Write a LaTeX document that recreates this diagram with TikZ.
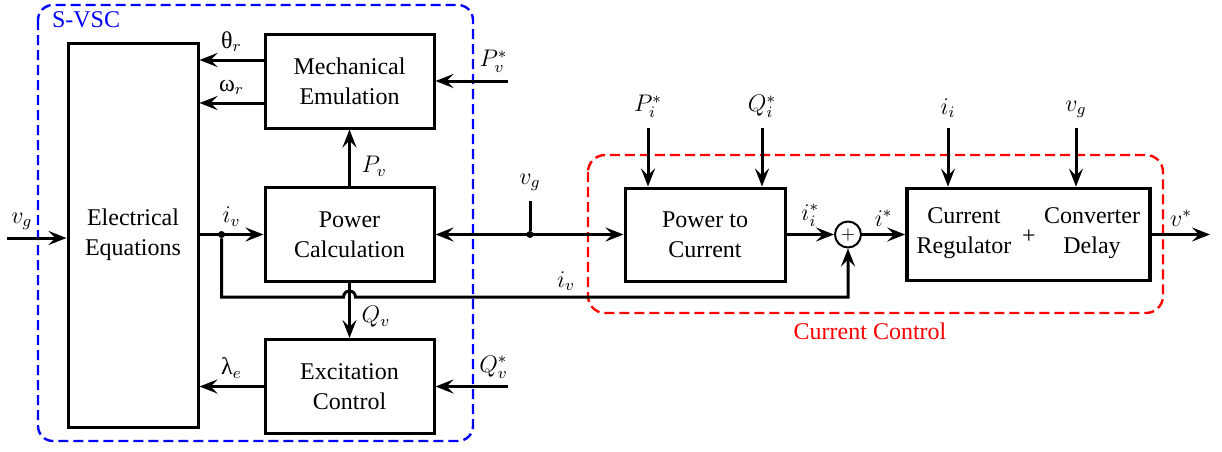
\documentclass[tikz,border=0pt]{standalone}
\usepackage{fontspec}
\setmainfont{Liberation Serif}
\newfontfamily\timesfont{Liberation Serif}
\usetikzlibrary{arrows.meta,positioning}
\tikzstyle{block} = [rectangle, draw=black, line width=1.5pt, minimum width=84.5pt, minimum height=47pt, align=center]
\tikzstyle{arrow} = [line width=1.5pt,-{Stealth[length=9pt,width=7pt,inset=3.5pt]}]
\tikzstyle{biarrow} = [line width=1.5pt,{Stealth[length=9pt,width=7pt,inset=3.5pt]}-{Stealth[length=9pt,width=7pt,inset=3.5pt]}]
\tikzstyle{line} = [line width=1.5pt]
\tikzstyle{sumnode} = [circle, draw=black, line width=1pt, minimum size=13pt, inner sep=0pt]
\tikzstyle{junction} = [circle, fill=black, minimum size=3.5pt, inner sep=0pt]
\tikzstyle{frame} = [line width=1.2pt, dash pattern=on 5pt off 2.5pt]

\begin{document}
\begin{tikzpicture}[x=0.5pt,y=-0.5pt,font=\timesfont\fontsize{12}{15}\selectfont]
\useasboundingbox (0,0) rectangle (1222,451);

% frames
\draw [frame, blue, rounded corners=7.5pt] (38,5) rectangle (473,441);
\node (svsc) [blue, anchor=west] at (45,20) {S-VSC};
\draw [frame, red, rounded corners=8.5pt] (588,155) rectangle (1163,313);
\node (cclbl) [red] at (870,331) {Current Control};

% S-VSC blocks
\node (elec) [block, minimum width=65pt, minimum height=192pt] at (133,235) {Electrical\\Equations};
\node (mech) [block] at (349.5,81) {Mechanical\\Emulation};
\node (pcalc) [block] at (349.5,234.5) {Power\\Calculation};
\node (exc) [block] at (349.5,386.5) {Excitation\\Control};

% current control blocks
\node (p2c) [block, minimum width=80pt, minimum height=46.5pt] at (705,234.5) {Power to\\Current};
\node (sum) [sumnode, font=\fontsize{9}{9}\selectfont] at (848,234.5) {$+$};
\node (creg) [block, line width=1.9pt, minimum width=121.5pt, minimum height=46pt] at (1028.5,234.5) {};
\node (regtxt) [align=center] at (964,233) {Current\\Regulator};
\node (plus) at (1029,237) {+};
\node (delaytxt) [align=center] at (1092,233) {Converter\\Delay};

% mechanical emulation outputs
\coordinate (th) at ([yshift=10.5pt]mech.west);
\coordinate (om) at ([yshift=-11pt]mech.west);
\draw [arrow] (th) -- (th -| elec.east) node[midway,above]{θ$_r$};
\draw [arrow] (om) -- (om -| elec.east) node[midway,above]{ω$_r$};
\coordinate (pvin) at (508,81);
\draw [arrow] (pvin) -- (mech.east) node[pos=0.2,above]{$P_v^*$};
\draw [arrow] (pcalc.north) -- (mech.south) node[pos=0.35,right=2pt]{$P_v$};

% electrical equations
\coordinate (vgin) at (7,238);
\draw [arrow] (vgin) -- (vgin -| elec.west) node[pos=0.25,above]{$v_g$};
\draw [arrow] (elec.east |- pcalc.west) -- (pcalc.west) node[midway,above]{$i_v$};
\node (jiv) [junction] at ([xshift=11pt]elec.east |- pcalc.west) {};

% excitation
\draw [arrow] (pcalc.south) -- (exc.north) node[pos=0.62,right=2pt]{$Q_v$};
\draw [arrow] (exc.west) -- (exc.west -| elec.east) node[midway,above]{λ$_e$};
\coordinate (qvin) at (508,386.5);
\draw [arrow] (qvin) -- (exc.east) node[pos=0.2,above]{$Q_v^*$};

% feedback of i_v with hop over Q_v
\coordinate (hopl) at ([xshift=-3pt]pcalc.south |- 0,297);
\draw [arrow] (jiv) |- (hopl) arc[start angle=180,end angle=0,radius=3pt] -| (sum.south);
\node (ivlbl) at (566,281) {$i_v$};

% v_g link
\draw [biarrow] (pcalc.east) -- (p2c.west);
\node (jvg) [junction] at (530,234.5) {};
\coordinate (vgtop) at (530,201);
\draw [line] (jvg) -- (vgtop) node[above=1pt]{$v_g$};

% references
\coordinate (piin) at (648,128);
\coordinate (qiin) at (762,128);
\coordinate (iiin) at (948,128);
\coordinate (vgin2) at (1076,128);
\draw [arrow] (piin) node[above=1pt]{$P_i^*$} -- (piin |- p2c.north);
\draw [arrow] (qiin) node[above=1pt]{$Q_i^*$} -- (qiin |- p2c.north);
\draw [arrow] (iiin) node[above=1pt]{$i_i$} -- (iiin |- creg.north);
\draw [arrow] (vgin2) node[above=1pt]{$v_g$} -- (vgin2 |- creg.north);

% current path
\draw [arrow] (p2c.east) -- (sum.west) node[midway,above]{$i_i^*$};
\draw [arrow] (sum.east) -- (creg.west) node[midway,above]{$i^*$};
\coordinate (vout) at (1210,234.5);
\draw [arrow] (creg.east) -- (vout) node[midway,above]{$v^*$};
\end{tikzpicture}
\end{document}
